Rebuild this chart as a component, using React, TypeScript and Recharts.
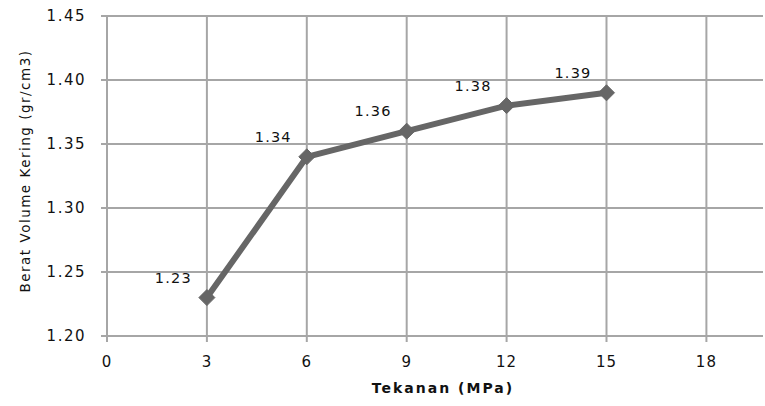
import React from 'react';
import { LineChart, Line, XAxis, YAxis, CartesianGrid, Label, LabelList } from 'recharts';

const pressures = [3, 6, 9, 12, 15];
const dryDensity = [1.23, 1.34, 1.36, 1.38, 1.39];
const xTicks = [0, 3, 6, 9, 12, 15, 18];
const yTicks = [1.2, 1.25, 1.3, 1.35, 1.4, 1.45];
const xTitle = 'Tekanan  (MPa)';
const yTitle = 'Berat  Volume Kering (gr/cm3)';

const data = pressures.map((p, i) => ({ p, v: dryDensity[i] }));

const FONT = '"DejaVu Sans", Verdana, sans-serif';
const GRID = '#a6a6a6';
const LINE = '#666666';
const TEXT = '#111';

const Diamond = (props: any) => {
  const { cx, cy } = props;
  if (cx == null || cy == null) return null;
  const r = 8;
  return (
    <path
      d={`M${cx},${cy - r}L${cx + r},${cy}L${cx},${cy + r}L${cx - r},${cy}Z`}
      fill={LINE}
      stroke={LINE}
      strokeWidth={1}
    />
  );
};

const ValueLabel = (props: any) => {
  const { x, y, value } = props;
  return (
    <text
      x={x - 15}
      y={y - 15}
      textAnchor="end"
      fontFamily={FONT}
      fontSize={14.5}
      letterSpacing={1.2}
      fill={TEXT}
    >
      {Number(value).toFixed(2)}
    </text>
  );
};

export default function App() {
  return (
    <div style={{ position: 'absolute', left: 0, top: 0, background: '#fff' }}>
      <LineChart
        width={765}
        height={406}
        data={data}
        margin={{ top: 16, right: 2, bottom: 0, left: 0 }}
      >
        <CartesianGrid stroke={GRID} strokeWidth={2} verticalValues={xTicks} horizontalValues={yTicks} />
        <XAxis
          dataKey="p"
          type="number"
          domain={[0, 19.7]}
          allowDataOverflow
          ticks={xTicks}
          height={70}
          tickSize={6}
          tickMargin={14}
          stroke={GRID}
          strokeWidth={2}
          tick={{ fontFamily: FONT, fontSize: 15, fill: TEXT, letterSpacing: 1 }}
          tickLine={{ stroke: GRID, strokeWidth: 2 }}
        >
          <Label
            content={(p: any) => {
              const vb = p.viewBox;
              return (
                <text
                  x={vb.x + vb.width / 2 + 8}
                  y={vb.y + 57}
                  textAnchor="middle"
                  fontFamily={FONT}
                  fontSize={14}
                  fontWeight="bold"
                  letterSpacing={2}
                  fill={TEXT}
                >
                  {xTitle}
                </text>
              );
            }}
          />
        </XAxis>
        <YAxis
          type="number"
          domain={[1.2, 1.45]}
          ticks={yTicks}
          width={107}
          tickSize={6}
          tickMargin={15}
          stroke={GRID}
          strokeWidth={2}
          tickFormatter={(v: number) => v.toFixed(2)}
          tick={{ fontFamily: FONT, fontSize: 15, fill: TEXT, letterSpacing: 1.5 }}
          tickLine={{ stroke: GRID, strokeWidth: 2 }}
        >
          <Label
            content={(p: any) => {
              const vb = p.viewBox;
              const cx = 25;
              const cy = vb.y + vb.height / 2 - 5;
              return (
                <text
                  x={cx}
                  y={cy}
                  transform={`rotate(-90, ${cx}, ${cy})`}
                  textAnchor="middle"
                  dominantBaseline="central"
                  fontFamily={FONT}
                  fontSize={13.5}
                  letterSpacing={1.5}
                  fill={TEXT}
                >
                  {yTitle}
                </text>
              );
            }}
          />
        </YAxis>
        <Line
          type="linear"
          dataKey="v"
          stroke={LINE}
          strokeWidth={6}
          dot={<Diamond />}
          activeDot={false}
          isAnimationActive={false}
        >
          <LabelList dataKey="v" content={<ValueLabel />} />
        </Line>
      </LineChart>
    </div>
  );
}
